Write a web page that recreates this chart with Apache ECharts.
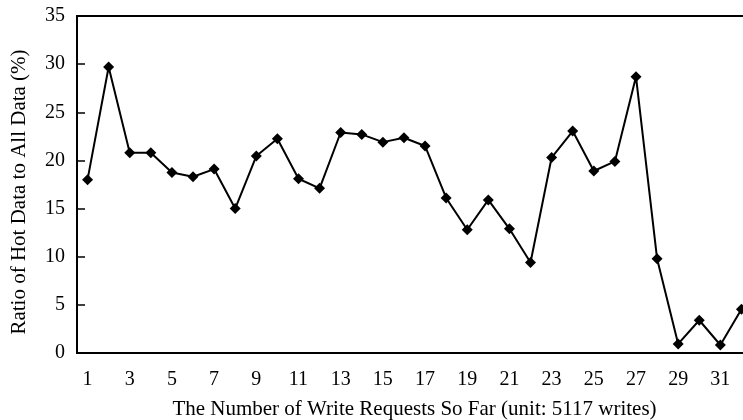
<!DOCTYPE html>
<html>
<head>
<meta charset="utf-8">
<script src="https://cdn.jsdelivr.net/npm/echarts@6/dist/echarts.min.js"></script>
<style>
html,body{margin:0;padding:0;background:#fff;}
#chart{width:743px;height:420px;}
</style>
</head>
<body>
<div id="chart"></div>
<script>
var categories = ['1','2','3','4','5','6','7','8','9','10','11','12','13','14','15','16','17','18','19','20','21','22','23','24','25','26','27','28','29','30','31','32'];
var hotRatio = [18.0, 29.7, 20.8, 20.8, 18.75, 18.3, 19.1, 15.0, 20.45, 22.25, 18.1, 17.1, 22.9, 22.7, 21.9, 22.35, 21.5, 16.1, 12.8, 15.9, 12.9, 9.4, 20.3, 23.05, 18.9, 19.9, 28.7, 9.8, 0.94, 3.4, 0.83, 4.55];
var yTitle = 'Ratio of Hot Data to All Data (%)';
var xTitle = 'The Number of Write Requests So Far (unit: 5117 writes)';

var FONT = '"Liberation Serif", "Times New Roman", serif';
var chart = echarts.init(document.getElementById('chart'), null, {renderer: 'canvas'});
chart.setOption({
  animation: false,
  backgroundColor: '#fff',
  grid: {left: 77, top: 16, bottom: 67, right: -9, show: true, borderColor: '#000', borderWidth: 2, containLabel: false, outerBoundsMode: 'none'},
  xAxis: {
    type: 'category',
    data: categories,
    boundaryGap: true,
    name: xTitle,
    nameLocation: 'middle',
    nameGap: 46,
    nameTextStyle: {fontFamily: FONT, fontSize: 21, color: '#000'},
    axisLine: {lineStyle: {color: '#000', width: 2}},
    axisTick: {inside: true, length: 8, interval: 0, lineStyle: {color: '#000', width: 1.5}},
    axisLabel: {interval: 1, margin: 17, fontFamily: FONT, fontSize: 20, color: '#000'},
    splitLine: {show: false}
  },
  yAxis: {
    type: 'value',
    min: 0, max: 35, interval: 5,
    name: yTitle,
    nameLocation: 'middle',
    nameGap: 47,
    nameTextStyle: {fontFamily: FONT, fontSize: 21, color: '#000', padding: [0, 15, 0, 0]},
    axisLine: {show: true, lineStyle: {color: '#000', width: 2}},
    axisTick: {show: true, inside: true, length: 8, lineStyle: {color: '#000', width: 1.5}},
    axisLabel: {margin: 12, fontFamily: FONT, fontSize: 20, color: '#000'},
    splitLine: {show: false}
  },
  series: [{
    type: 'line',
    data: hotRatio,
    symbol: 'diamond',
    symbolSize: 11,
    itemStyle: {color: '#000'},
    lineStyle: {color: '#000', width: 2},
    clip: false
  }]
});
</script>
</body>
</html>
